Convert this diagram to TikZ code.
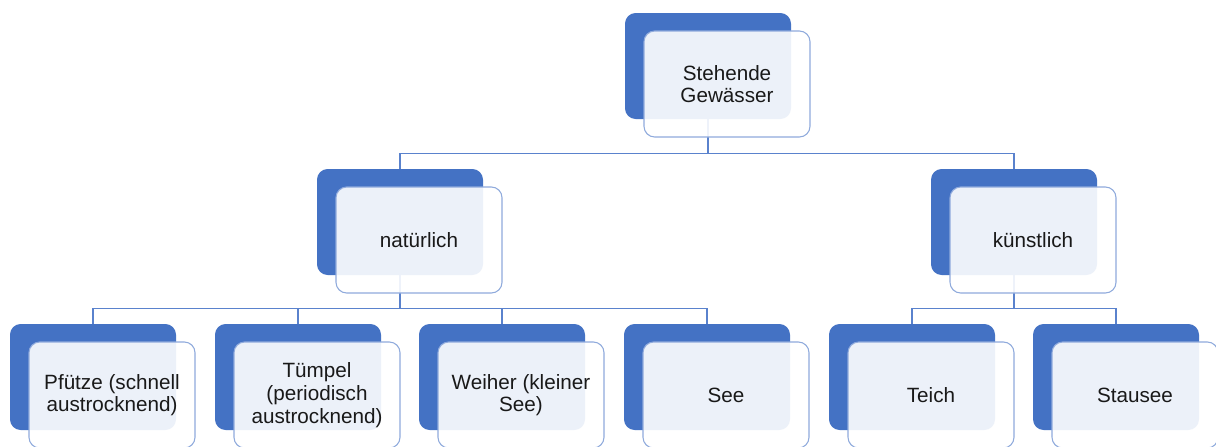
\documentclass[tikz,border=0pt]{standalone}
\usepackage{fontspec}
\setmainfont{Liberation Sans}
\definecolor{boxblue}{RGB}{68,114,196}
\definecolor{rimblue}{RGB}{143,170,220}
\definecolor{linkblue}{RGB}{90,130,205}
\tikzset{
	backbox/.style={rectangle,rounded corners=8pt,fill=boxblue,minimum width=124.5pt,minimum height=79.5pt,inner sep=0pt},
	frontbox/.style={rectangle,rounded corners=8pt,fill=white,fill opacity=0.9,text opacity=1,draw=rimblue,line width=0.8pt,minimum width=124.5pt,minimum height=79.5pt,inner sep=0pt,align=center,text=black!90,font=\fontsize{15.5}{17}\selectfont},
	link/.style={draw=linkblue,line width=0.8pt}
}
\begin{document}
\begin{tikzpicture}[x=0.75pt,y=-0.75pt]
		\clip (0,0) rectangle (1216,446);
		\fill[white] (0,0) rectangle (1216,446);
		\node[backbox] (wasser) at (708,66) {};
		\node[backbox] (natur) at (400,222) {};
		\node[backbox] (kunst) at (1014,222) {};
		\node[backbox] (pfuetze) at (93,377) {};
		\node[backbox] (tuempel) at (298,377) {};
		\node[backbox] (weiher) at (502,377) {};
		\node[backbox] (see) at (707,377) {};
		\node[backbox] (teich) at (912,377) {};
		\node[backbox] (stausee) at (1116,377) {};
		\draw[link] (wasser.south) -- ++(0,34) -| (natur.north);
		\draw[link] (wasser.south) -- ++(0,34) -| (kunst.north);
		\draw[link] (natur.south) -- ++(0,33) -| (pfuetze.north);
		\draw[link] (natur.south) -- ++(0,33) -| (tuempel.north);
		\draw[link] (natur.south) -- ++(0,33) -| (weiher.north);
		\draw[link] (natur.south) -- ++(0,33) -| (see.north);
		\draw[link] (kunst.south) -- ++(0,33) -| (teich.north);
		\draw[link] (kunst.south) -- ++(0,33) -| (stausee.north);
		\node[frontbox] (wasserf) at ([shift={(19,18)}]wasser) {Stehende\\Gewässer};
		\node[frontbox] (naturf) at ([shift={(19,18)}]natur) {natürlich};
		\node[frontbox] (kunstf) at ([shift={(19,18)}]kunst) {künstlich};
		\node[frontbox] (pfuetzef) at ([shift={(19,18)}]pfuetze) {Pfütze (schnell\\austrocknend)};
		\node[frontbox] (tuempelf) at ([shift={(19,18)}]tuempel) {Tümpel\\(periodisch\\austrocknend)};
		\node[frontbox] (weiherf) at ([shift={(19,18)}]weiher) {Weiher (kleiner\\See)};
		\node[frontbox] (seef) at ([shift={(19,18)}]see) {See};
		\node[frontbox] (teichf) at ([shift={(19,18)}]teich) {Teich};
		\node[frontbox] (stauseef) at ([shift={(19,18)}]stausee) {Stausee};
\end{tikzpicture}
\end{document}
